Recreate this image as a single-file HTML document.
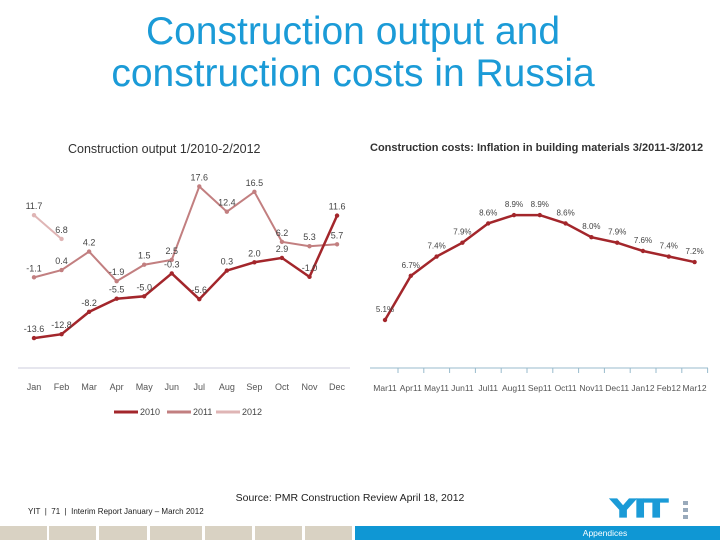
<!DOCTYPE html>
<html><head><meta charset="utf-8"><style>
body{margin:0;width:720px;height:540px;overflow:hidden;background:#fff;font-family:"Liberation Sans",sans-serif;position:relative}
.abs{position:absolute}
</style></head><body>
<div class="abs" style="left:0;width:706px;top:11px;text-align:center;color:#1b9bd7;font-size:39px;line-height:42px">Construction output and<br>construction costs in Russia</div>
<div class="abs" style="left:68px;top:142px;font-size:12.5px;color:#333">Construction output 1/2010-2/2012</div>
<div class="abs" style="left:370px;top:142px;font-size:11px;font-weight:bold;color:#333">Construction costs: Inflation in building materials 3/2011-3/2012</div>
<svg class="abs" style="left:0;top:0" width="720" height="540" id="svg"></svg>
<div class="abs" style="left:0;width:700px;top:492px;text-align:center;font-size:10.5px;color:#222">Source: PMR Construction Review April 18, 2012</div>
<div class="abs" style="left:28px;top:507px;font-size:8px;color:#222">YIT &nbsp;| &nbsp;71 &nbsp;| &nbsp;Interim Report January – March 2012</div>
<div class="abs" style="left:610px;top:497px;font-size:29px;font-weight:bold;color:#1b9bd7;letter-spacing:-1px;line-height:26px;transform-origin:0 0;transform:scale(1.35,0.9);-webkit-text-stroke:1.5px #1b9bd7">YIT</div>
<div class="abs" style="left:683px;top:501px;width:5px;height:20px;background:repeating-linear-gradient(#9ab 0 4px,#fff 4px 7px)"></div>
<div class="abs" style="left:0;top:526px;width:720px;height:14px">
<div class="abs" style="left:0;width:47px;height:14px;background:#d9d2c3"></div>
<div class="abs" style="left:49px;width:47px;height:14px;background:#d9d2c3"></div>
<div class="abs" style="left:99px;width:48px;height:14px;background:#d9d2c3"></div>
<div class="abs" style="left:150px;width:52px;height:14px;background:#d9d2c3"></div>
<div class="abs" style="left:205px;width:47px;height:14px;background:#d9d2c3"></div>
<div class="abs" style="left:255px;width:47px;height:14px;background:#d9d2c3"></div>
<div class="abs" style="left:305px;width:47px;height:14px;background:#d9d2c3"></div>
<div class="abs" style="left:355px;width:365px;height:14px;background:#0f97d4;color:#fff;font-size:8.5px;line-height:14px;text-align:center;padding-left:135px;box-sizing:border-box">Appendices</div>
</div>
<script>
const months=["Jan","Feb","Mar","Apr","May","Jun","Jul","Aug","Sep","Oct","Nov","Dec"];
const s2010=[-13.6,-12.8,-8.2,-5.5,-5.0,-0.3,-5.6,0.3,2.0,2.9,-1.0,11.6];
const s2011=[-1.1,0.4,4.2,-1.9,1.5,2.5,17.6,12.4,16.5,6.2,5.3,5.7];
const s2012=[11.7,6.8];
const costMonths=["Mar11","Apr11","May11","Jun11","Jul11","Aug11","Sep11","Oct11","Nov11","Dec11","Jan12","Feb12","Mar12"];
const costValues=[5.1,6.7,7.4,7.9,8.6,8.9,8.9,8.6,8.1,7.9,7.6,7.4,7.2];
const costLabels=["5.1%","6.7%","7.4%","7.9%","8.6%","8.9%","8.9%","8.6%","8.0%","7.9%","7.6%","7.4%","7.2%"];
const svg=document.getElementById('svg');const NS="http://www.w3.org/2000/svg";
function mk(t,a,name){const e=document.createElementNS(NS,t);for(const k in a)e.setAttribute(k,a[k]);


svg.appendChild(e);return e;}
const lx=i=>34+i*27.55, ly=v=>272-v*4.86;
mk('line',{x1:18,x2:350,y1:368,y2:368,stroke:'#ccd',"stroke-width":1},'left-x-axis');
months.forEach((m,i)=>{const t=mk('text',{x:lx(i),y:390,"font-size":9,fill:'#555',"text-anchor":'middle'},'x-tick-label');t.textContent=m;});
function series(arr,col,name,w){const pts=arr.map((v,i)=>lx(i)+','+ly(v)).join(' ');
mk('polyline',{points:pts,fill:'none',stroke:col,"stroke-width":w},name+'-line');
arr.forEach((v,i)=>{mk('circle',{cx:lx(i),cy:ly(v),r:2.2,fill:col},name+'-point');
const t=mk('text',{x:lx(i),y:ly(v)-6,"font-size":9,fill:'#444',"text-anchor":'middle'},name+'-value-label');t.textContent=v.toFixed(1);});}
series(s2012,'#dfb5b5','series-2012',2);
series(s2011,'#c27f80','series-2011',2);
series(s2010,'#a3262b','series-2010',2.5);
[[130,'#a3262b','2010'],[183,'#c27f80','2011'],[232,'#dfb5b5','2012']].forEach(([x,c,l])=>{
mk('line',{x1:x-16,x2:x+8,y1:412,y2:412,stroke:c,"stroke-width":3},'legend-swatch-'+l);
const t=mk('text',{x:x+10,y:415,"font-size":9,fill:'#444'},'legend-entry-'+l);t.textContent=l;});
const rx=i=>385+i*25.8, ry=v=>320-(v-5.1)*27.6;
mk('line',{x1:370,x2:708,y1:368,y2:368,stroke:'#9bc',"stroke-width":1},'right-x-axis');
costMonths.forEach((m,i)=>{mk('line',{x1:rx(i)+13,x2:rx(i)+13,y1:368,y2:373,stroke:'#9bc'},'right-tick');
const t=mk('text',{x:rx(i),y:391,"font-size":8.5,fill:'#555',"text-anchor":'middle'},'right-x-tick-label');t.textContent=m;});
mk('polyline',{points:costValues.map((v,i)=>rx(i)+','+ry(v)).join(' '),fill:'none',stroke:'#a3262b',"stroke-width":2.5},'cost-line');
costValues.forEach((v,i)=>{mk('circle',{cx:rx(i),cy:ry(v),r:2.2,fill:'#a3262b'},'cost-point');
const t=mk('text',{x:rx(i),y:ry(v)-8,"font-size":8,fill:'#444',"text-anchor":'middle'},'cost-value-label');t.textContent=costLabels[i];});
</script>
</body></html>
